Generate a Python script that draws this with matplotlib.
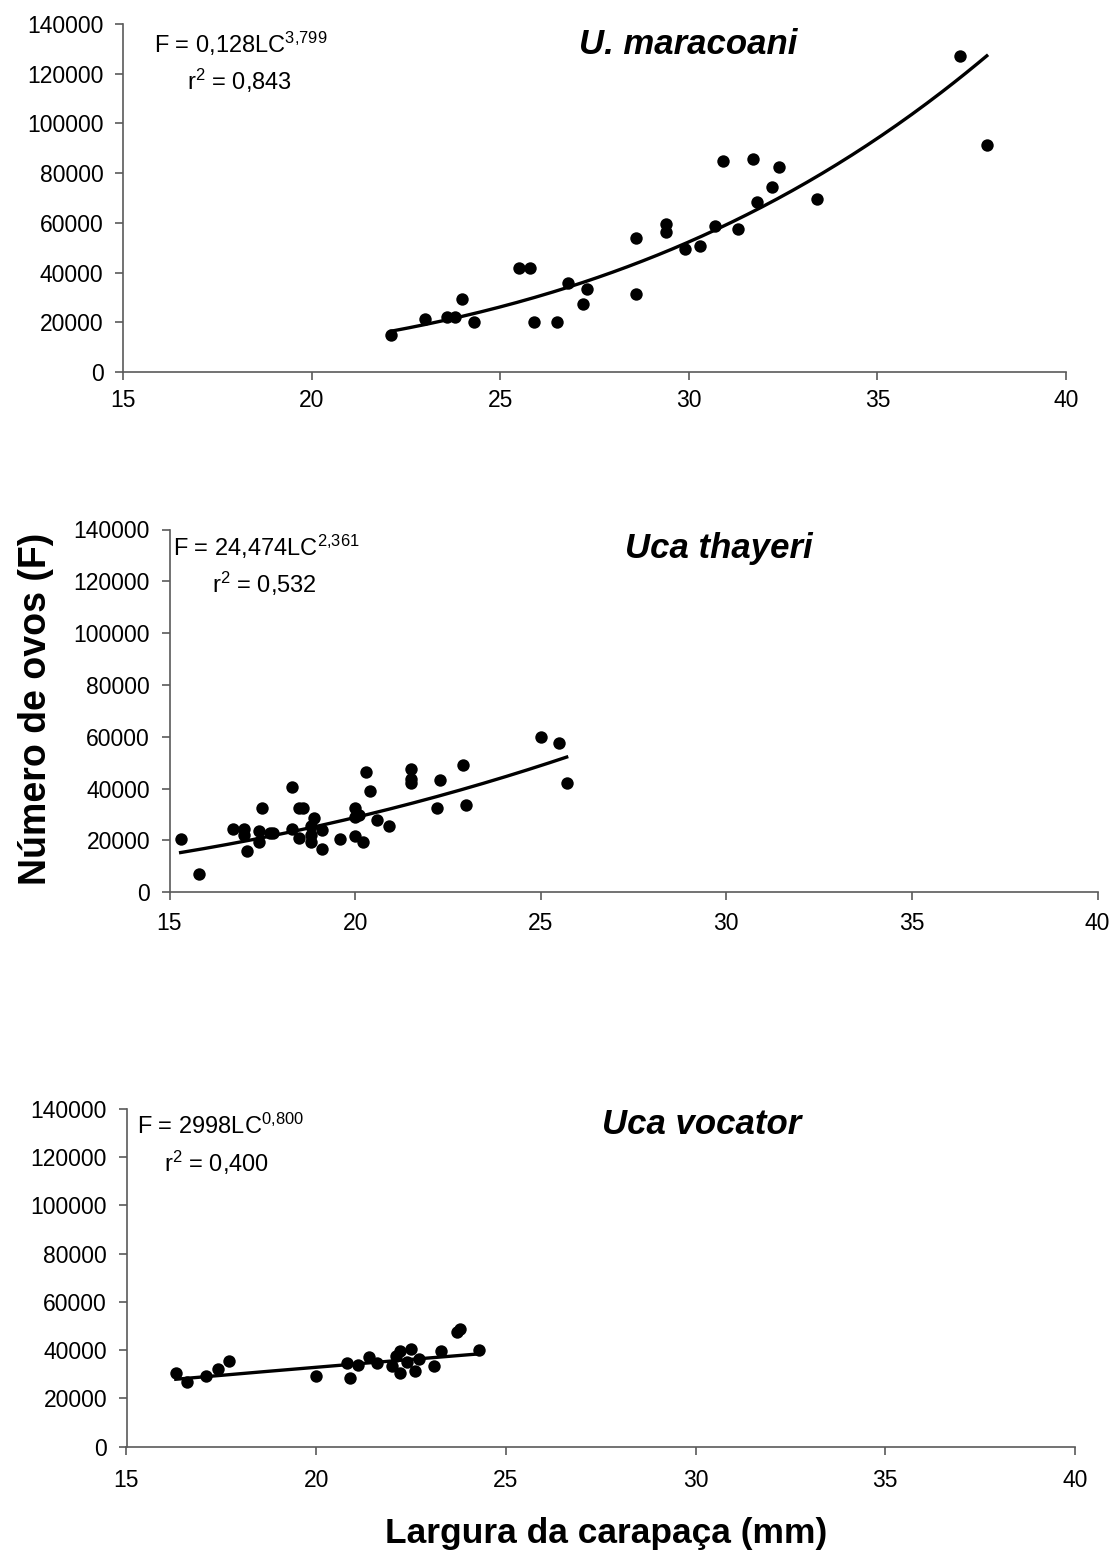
import numpy as np
import matplotlib
matplotlib.use("Agg")
import matplotlib.pyplot as plt

plt.rcParams['font.family'] = ['Liberation Sans', 'DejaVu Sans']
plt.rcParams['mathtext.fontset'] = 'custom'
plt.rcParams['mathtext.rm'] = 'Liberation Sans'
plt.rcParams['mathtext.it'] = 'Liberation Sans:italic'
plt.rcParams['mathtext.bf'] = 'Liberation Sans:bold'

# ---- Data: U. maracoani ----
mar_x = [22.1, 23.0, 23.6, 23.8, 24.0, 24.3, 25.5, 25.8, 25.9, 26.5, 26.8, 27.2, 27.3,
         28.6, 28.6, 29.4, 29.4, 29.9, 30.3, 30.7, 30.9, 31.3, 31.7, 31.8, 32.2, 32.4,
         33.4, 37.2, 37.9]
mar_y = [15000, 21200, 22000, 22000, 29200, 20200, 42000, 42000, 20200, 20200, 35700, 27500, 33300,
         53800, 31500, 59500, 56200, 49600, 50600, 58700, 84900, 57700, 85800, 68300, 74600, 82600,
         69700, 127300, 91300]
mar_a, mar_b = 0.128, 3.799
mar_range = [22.1, 37.9]

# ---- Data: Uca thayeri ----
tha_x = [15.3, 15.8, 16.7, 17.0, 17.0, 17.1, 17.4, 17.4, 17.5, 17.7, 17.8, 18.3, 18.3, 18.5,
         18.6, 18.5, 18.8, 18.8, 18.8, 18.9, 19.1, 19.1, 19.6, 20.0, 20.0, 20.0, 20.1, 20.3,
         20.2, 20.4, 20.6, 20.9, 21.5, 21.5, 21.5, 22.2, 22.3, 22.9, 23.0, 25.0, 25.5, 25.7]
tha_y = [20500, 7200, 24400, 24400, 22000, 15900, 23500, 19600, 32700, 22800, 22800, 40500, 24400, 32700,
         32700, 21000, 25400, 22200, 19600, 28600, 24100, 16600, 20500, 32700, 29200, 21800, 30000, 46600,
         19600, 38900, 28000, 25600, 47600, 43700, 42200, 32700, 43400, 49000, 33500, 59800, 57600, 42200]
tha_a, tha_b = 24.474, 2.361
tha_range = [15.3, 25.7]

# ---- Data: Uca vocator ----
voc_x = [16.3, 16.6, 17.1, 17.4, 17.7, 20.0, 20.8, 20.9, 21.1, 21.4, 21.6, 22.0, 22.1, 22.2,
         22.2, 22.5, 22.4, 22.6, 22.7, 23.1, 23.3, 23.7, 23.8, 24.3]
voc_y = [30400, 26900, 29400, 32100, 35500, 29400, 34500, 28600, 33800, 37000, 34500, 33400, 37700, 39600,
         30400, 40300, 35200, 31400, 36200, 33500, 39600, 47600, 49000, 40000]
voc_a, voc_b = 2998, 0.800
voc_range = [16.3, 24.3]

titles = ["U. maracoani", "Uca thayeri", "Uca vocator"]
eq_texts = ["F = 0,128LC$^{3{,}799}$", "F = 24,474LC$^{2{,}361}$", "F = 2998LC$^{0{,}800}$"]
r2_texts = ["r$^{2}$ = 0,843", "r$^{2}$ = 0,532", "r$^{2}$ = 0,400"]
xticks = [15, 20, 25, 30, 35, 40]
yticks = [0, 20000, 40000, 60000, 80000, 100000, 120000, 140000]

W, H = 1116, 1562
fig = plt.figure(figsize=(W / 100, H / 100), dpi=100)

# axes rectangles in pixels: left, right, bottom(y px), top(y px)
rects = [(123, 1066, 372, 24), (169.5, 1097.5, 892.3, 529.5), (126.5, 1075, 1446.7, 1109)]
eq_pos = [(154, 44), (173, 547), (137, 1126)]
r2_pos = [(239, 81), (264, 584), (217, 1163)]
title_pos = [(688, 45), (719, 548), (702, 1125)]
xpads = [6, 8, 10]

datasets = [(mar_x, mar_y, mar_a, mar_b, mar_range),
            (tha_x, tha_y, tha_a, tha_b, tha_range),
            (voc_x, voc_y, voc_a, voc_b, voc_range)]

spine_col = '#5a5a5a'
for i, (xs, ys, a, b, rng) in enumerate(datasets):
    l, r, bt, tp = rects[i]
    ax = fig.add_axes([l / W, 1 - bt / H, (r - l) / W, (bt - tp) / H])
    ax.scatter(xs, ys, s=80, color='black', zorder=3, linewidths=0)
    xf = np.linspace(rng[0], rng[1], 200)
    ax.plot(xf, a * xf ** b, color='black', lw=2.4, zorder=2)
    ax.set_xlim(15, 40)
    ax.set_ylim(0, 140000)
    ax.set_xticks(xticks)
    ax.set_yticks(yticks)
    ax.set_xticklabels([str(t) for t in xticks])
    ax.set_yticklabels([str(t) for t in yticks])
    for s in ['top', 'right']:
        ax.spines[s].set_visible(False)
    for s in ['left', 'bottom']:
        ax.spines[s].set_color(spine_col)
        ax.spines[s].set_linewidth(1.2)
    ax.tick_params(axis='both', direction='out', length=6, width=1.2, color=spine_col,
                   labelsize=16.5, labelcolor='black')
    ax.tick_params(axis='x', pad=xpads[i])
    ax.tick_params(axis='y', pad=8)
    ax.patch.set_visible(False)

    fig.text(eq_pos[i][0] / W, 1 - eq_pos[i][1] / H, eq_texts[i], fontsize=17,
             ha='left', va='center')
    fig.text(r2_pos[i][0] / W, 1 - r2_pos[i][1] / H, r2_texts[i], fontsize=17,
             ha='center', va='center')
    fig.text(title_pos[i][0] / W, 1 - title_pos[i][1] / H, titles[i], fontsize=25,
             fontweight='bold', fontstyle='italic', ha='center', va='center')

fig.text(36 / W, 1 - 709 / H, "Número de ovos (F)", fontsize=27, fontweight='bold',
         rotation=90, ha='center', va='center')
fig.text(606 / W, 1 - 1533 / H, "Largura da carapaça (mm)", fontsize=25.5, fontweight='bold',
         ha='center', va='center')

fig.savefig("out.png", dpi=100, facecolor='white')
